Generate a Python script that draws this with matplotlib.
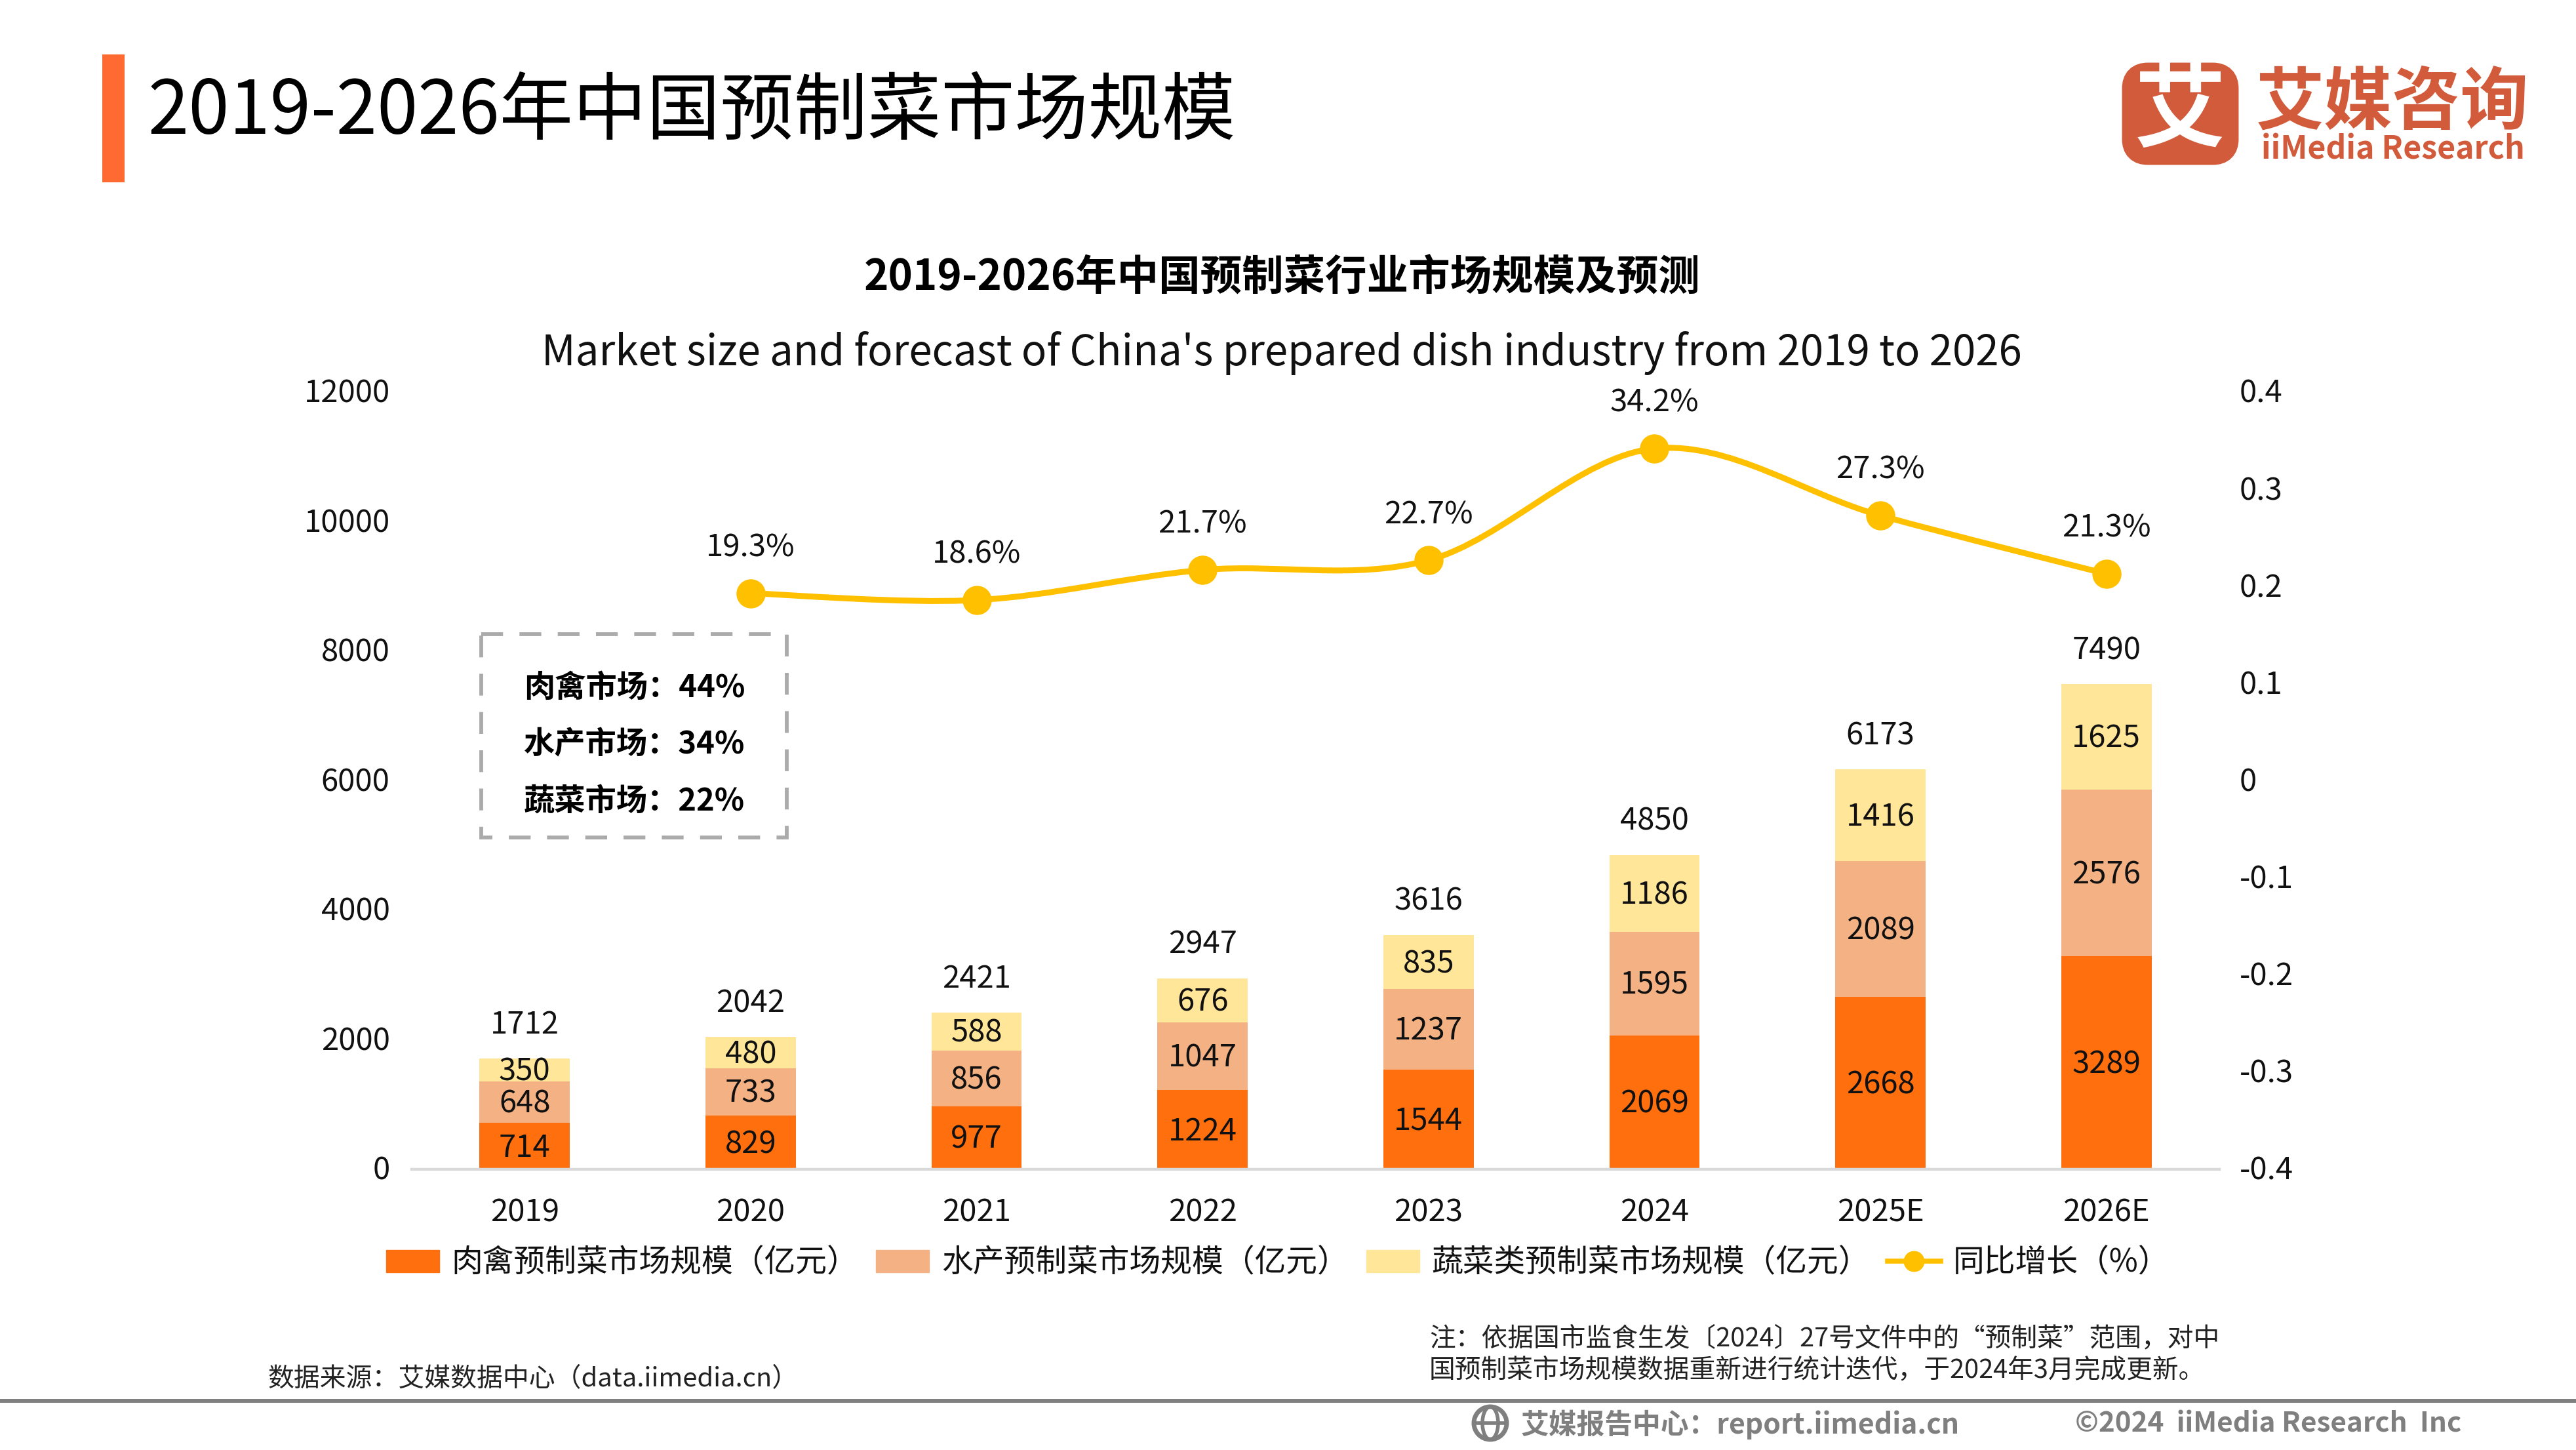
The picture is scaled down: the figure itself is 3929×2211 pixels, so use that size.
import matplotlib
matplotlib.use("Agg")
import matplotlib.pyplot as plt
from matplotlib.lines import Line2D
from matplotlib.patches import Patch, PathPatch, Rectangle, FancyBboxPatch, Circle, Ellipse
from matplotlib.path import Path
from matplotlib.transforms import ScaledTranslation

plt.rcParams['font.family'] = ['Noto Sans CJK SC', 'DejaVu Sans']

years = ['2019', '2020', '2021', '2022', '2023', '2024', '2025E', '2026E']
meat = [714, 829, 977, 1224, 1544, 2069, 2668, 3289]
aquatic = [648, 733, 856, 1047, 1237, 1595, 2089, 2576]
vegetable = [350, 480, 588, 676, 835, 1186, 1416, 1625]
totals = [1712, 2042, 2421, 2947, 3616, 4850, 6173, 7490]
growth_years = [1, 2, 3, 4, 5, 6, 7]
growth = [0.193, 0.186, 0.217, 0.227, 0.342, 0.273, 0.213]
growth_labels = ['19.3%', '18.6%', '21.7%', '22.7%', '34.2%', '27.3%', '21.3%']
left_ticks = [0, 2000, 4000, 6000, 8000, 10000, 12000]
right_ticks = [-0.4, -0.3, -0.2, -0.1, 0, 0.1, 0.2, 0.3, 0.4]
right_labels = ['-0.4', '-0.3', '-0.2', '-0.1', '0', '0.1', '0.2', '0.3', '0.4']
share_lines = ['肉禽市场：44%', '水产市场：34%', '蔬菜市场：22%']

W, H = 3930, 2211
ORANGE, SALMON, CREAM, GOLD = '#FF6F0E', '#F4B183', '#FFE699', '#FFC000'
INK = '#111111'
fig = plt.figure(figsize=(W / 100, H / 100), dpi=100, facecolor='white')

# main plot area, placed in figure pixels
AL, AR, AT, AB = 628, 3385, 598, 1783
ax = fig.add_axes([AL / W, 1 - AB / H, (AR - AL) / W, (AB - AT) / H])
ax.set_xlim(-0.5, 7.5)
ax.set_ylim(0, 12000)
x = list(range(len(years)))
bottom2 = [a + b for a, b in zip(meat, aquatic)]
ax.bar(x, meat, 0.4, color=ORANGE, zorder=2)
ax.bar(x, aquatic, 0.4, bottom=meat, color=SALMON, zorder=2)
ax.bar(x, vegetable, 0.4, bottom=bottom2, color=CREAM, zorder=2)
for i in x:
    for mid, val in [(meat[i] / 2, meat[i]),
                     (meat[i] + aquatic[i] / 2, aquatic[i]),
                     (bottom2[i] + vegetable[i] / 2, vegetable[i])]:
        ax.annotate(str(val), (i, mid), xytext=(0, -2), textcoords='offset points',
                    ha='center', va='center', fontsize=34, color=INK, zorder=3)
    ax.annotate(str(totals[i]), (i, totals[i]), xytext=(0, 37), textcoords='offset points',
                ha='center', va='center', fontsize=34, color=INK)
for s in ['top', 'left', 'right']:
    ax.spines[s].set_visible(False)
ax.spines['bottom'].set_color('#D9D9D9')
ax.spines['bottom'].set_linewidth(3.2)
ax.set_xticks(x, years)
ax.set_yticks(left_ticks)
ax.tick_params(axis='x', length=0, pad=30, labelsize=34, labelcolor=INK)
ax.tick_params(axis='y', length=0, pad=24, labelsize=34, labelcolor=INK)

ax2 = ax.twinx()
ax2.set_xlim(-0.5, 7.5)
ax2.set_ylim(-0.4, 0.4)
for s in ax2.spines.values():
    s.set_visible(False)
ax2.set_yticks(right_ticks, right_labels)
ax2.tick_params(axis='y', length=0, pad=22, labelsize=34, labelcolor=INK)

# y tick labels sit slightly above their nominal positions
nudge = ScaledTranslation(0, 2 / 72, fig.dpi_scale_trans)
for lbl in ax.get_yticklabels() + ax2.get_yticklabels():
    lbl.set_transform(lbl.get_transform() + nudge)

# smooth line: cubic Bezier segments through the data points
verts = [(growth_years[0], growth[0])]
codes = [Path.MOVETO]
n = len(growth)
for i in range(n - 1):
    p0 = (growth_years[max(i - 1, 0)], growth[max(i - 1, 0)])
    p1 = (growth_years[i], growth[i])
    p2 = (growth_years[i + 1], growth[i + 1])
    p3 = (growth_years[min(i + 2, n - 1)], growth[min(i + 2, n - 1)])
    c1 = (p1[0] + (p2[0] - p0[0]) / 6, p1[1] + (p2[1] - p0[1]) / 6)
    c2 = (p2[0] - (p3[0] - p1[0]) / 6, p2[1] - (p3[1] - p1[1]) / 6)
    verts += [c1, c2, p2]
    codes += [Path.CURVE4] * 3
ax2.add_patch(PathPatch(Path(verts, codes), fc='none', ec=GOLD, lw=6.5, zorder=4))
ax2.plot(growth_years, growth, ls='none', marker='o', ms=31, color=GOLD, zorder=5)
for gx, gy, t in zip(growth_years, growth, growth_labels):
    ax2.annotate(t, (gx, gy), xytext=(0, 50), textcoords='offset points',
                 ha='center', va='center', fontsize=34, color=INK)

handles = [Patch(color=ORANGE), Patch(color=SALMON), Patch(color=CREAM),
           Line2D([], [], color=GOLD, lw=5.5, marker='o', ms=22)]
labels = ['肉禽预制菜市场规模（亿元）', '水产预制菜市场规模（亿元）', '蔬菜类预制菜市场规模（亿元）', '同比增长（%）']
fig.legend(handles, labels, loc='center', bbox_to_anchor=(1949 / W, 1 - 1926 / H), ncol=4, frameon=False,
           fontsize=34.4, labelcolor=INK, handlelength=1.7, handleheight=0.7,
           handletextpad=0.39, columnspacing=0.56, borderpad=0, borderaxespad=0)

# page furniture, in figure pixels
pg = fig.add_axes([0, 0, 1, 1], zorder=10)
pg.set_xlim(0, W)
pg.set_ylim(H, 0)
pg.axis('off')
pg.patch.set_alpha(0)

pg.add_patch(Rectangle((156, 83), 34, 195, fc='#FF6A33', ec='none'))
pg.text(226, 172, '2019-2026年中国预制菜市场规模', fontsize=80.8, color='#000000', ha='left', va='center')
pg.text(1956, 424, '2019-2026年中国预制菜行业市场规模及预测', fontsize=45.7, weight='bold', color='#000000', ha='center', va='center')
pg.text(1955, 539, "Market size and forecast of China's prepared dish industry from 2019 to 2026",
        fontsize=45.8, color=INK, ha='center', va='center')

# dashed share box
pg.add_patch(Rectangle((734, 967), 466, 310, fc='none', ec='#ABABAB', lw=4.2,
                       linestyle=(0, (5.7, 4.3))))
for yy, t in zip([1049, 1135, 1222], share_lines):
    pg.text(799, yy, t, fontsize=34, weight='bold', color='#000000', ha='left', va='center')

# logo
LOGO = '#D15B3B'
pg.add_patch(FancyBboxPatch((3256, 115), 139, 117, boxstyle='round,pad=0,rounding_size=20', fc=LOGO, ec=LOGO, lw=28))
pg.text(3325, 172, '艾', fontsize=100, weight='bold', color='white', ha='center', va='center')
pg.text(3649, 158, '艾媒咨询', fontsize=75, weight='bold', color=LOGO, ha='center', va='center')
pg.text(3650, 228, 'iiMedia Research', fontsize=34.7, weight='bold', color=LOGO, ha='center', va='center')

# notes and footer
pg.text(408, 2102, '数据来源：艾媒数据中心（data.iimedia.cn）', fontsize=28.7, color='#222222', ha='left', va='center')
pg.text(2180, 2041, '注：依据国市监食生发〔2024〕27号文件中的“预制菜”范围，对中', fontsize=28.6, color='#222222', ha='left', va='center')
pg.text(2180, 2089, '国预制菜市场规模数据重新进行统计迭代，于2024年3月完成更新。', fontsize=28.6, color='#222222', ha='left', va='center')
pg.add_line(Line2D([0, W], [2136, 2136], color='#808080', lw=4.3))
GREY = '#7F7F7F'
pg.add_patch(Circle((2273, 2170), 25, fc='none', ec=GREY, lw=5))
pg.add_patch(Ellipse((2273, 2170), 24, 50, fc='none', ec=GREY, lw=4))
pg.add_line(Line2D([2248, 2298], [2170, 2170], color=GREY, lw=4))
pg.text(2320, 2172, '艾媒报告中心：report.iimedia.cn', fontsize=30.8, weight='bold', color=GREY, ha='left', va='center')
pg.text(3165, 2172, '©2024  iiMedia Research  Inc', fontsize=30.4, weight='bold', color=GREY, ha='left', va='center')

fig.savefig('out.png', dpi=100, facecolor='white')
